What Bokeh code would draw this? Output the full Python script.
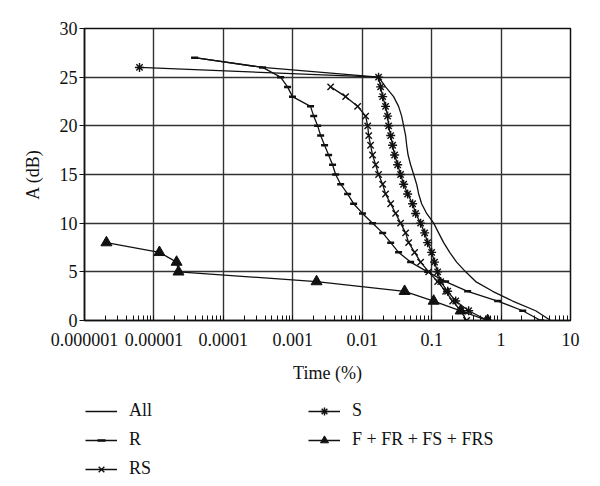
from bokeh.plotting import figure
from bokeh.layouts import column
from bokeh.models import (FixedTicker, CustomJSTickFormatter, Legend, LegendItem,
                          Range1d)
from bokeh.embed import file_html
from bokeh.resources import INLINE

# ---------------- data ----------------
A_all = [27, 26, 25, 24, 23, 22, 21, 20, 19, 18, 17, 16, 15, 14, 13, 12,
         11, 10, 9, 8, 7, 6, 5, 4, 3, 2, 1, 0]
t_all = [3.85e-5, 3.67e-4, 0.0172, 0.0217, 0.0283, 0.0334, 0.0370, 0.0395,
         0.0422, 0.0437, 0.0458, 0.0498, 0.0551, 0.0608, 0.0650, 0.0718,
         0.0847, 0.107, 0.126, 0.149, 0.182, 0.229, 0.309, 0.431, 0.757,
         1.47, 3.15, 5.19]

A_r = [27, 26, 25, 24, 23, 22, 21, 20, 19, 18, 17, 16, 15, 14, 13, 12,
       11, 10, 9, 8, 7, 6, 5, 4, 3, 2, 1, 0]
t_r = [3.85e-5, 3.67e-4, 6.67e-4, 8.4e-4, 9.9e-4, 1.80e-3, 2.0e-3, 2.28e-3,
       2.52e-3, 2.87e-3, 3.28e-3, 3.74e-3, 4.14e-3, 4.89e-3, 6.16e-3,
       7.52e-3, 1.01e-2, 1.41e-2, 1.97e-2, 2.57e-2, 3.34e-2, 4.98e-2,
       8.75e-2, 0.159, 0.330, 0.894, 2.05, 3.72]

A_rs = [24, 23, 22, 21, 20, 19, 18, 17, 16, 15, 14, 13, 12, 11, 10, 9, 8,
        7, 6, 5, 4, 3, 2, 1, 0]
t_rs = [3.51e-3, 5.77e-3, 8.59e-3, 0.0112, 0.0120, 0.0124, 0.0132, 0.0141,
        0.0156, 0.0172, 0.0197, 0.0217, 0.0257, 0.0303, 0.0357, 0.0422,
        0.0466, 0.0569, 0.0694, 0.0906, 0.122, 0.159, 0.201, 0.262, 0.319]

A_s = [26, 25, 24, 23, 22, 21, 20, 19, 18, 17, 16, 15, 14, 13, 12, 11, 10,
       9, 8, 7, 6, 5, 4, 3, 2, 1, 0]
t_s = [6.2e-6, 0.0172, 0.0184, 0.0197, 0.0217, 0.0232, 0.0240, 0.0257,
       0.0274, 0.0293, 0.0324, 0.0357, 0.0395, 0.0451, 0.0532, 0.0588,
       0.0694, 0.0793, 0.0875, 0.100, 0.110, 0.122, 0.135, 0.170, 0.222,
       0.341, 0.641]

A_f = [8, 7, 6, 5, 4, 3, 2, 1, 0]
t_f = [2.07e-6, 1.2e-5, 2.12e-5, 2.26e-5, 2.2e-3, 0.0408, 0.107, 0.262, 0.641]

x_major = [1e-6, 1e-5, 1e-4, 1e-3, 1e-2, 1e-1, 1, 10]
y_major = [0, 5, 10, 15, 20, 25, 30]
x_minor = [m * d for d in x_major[:-1] for m in range(2, 10)]

labels = ["All", "R", "RS", "S", "F + FR + FS + FRS"]

FONT = "Liberation Serif"
BLACK = "#111111"

# ---------------- main chart ----------------
fig = figure(width=600, height=392, x_axis_type="log",
             x_range=Range1d(1e-6, 10), y_range=Range1d(0, 30),
             output_backend="svg", toolbar_location=None,
             min_border_left=84, min_border_right=30, min_border_top=28,
             min_border_bottom=72)
fig.background_fill_color = "white"
fig.border_fill_color = "white"
fig.outline_line_color = BLACK
fig.outline_line_width = 1.5

xt = FixedTicker(ticks=x_major, minor_ticks=x_minor)
yt = FixedTicker(ticks=y_major)
fig.xaxis.ticker = xt
fig.yaxis.ticker = yt
fig.xgrid.ticker = xt
fig.ygrid.ticker = yt
for g in (fig.xgrid, fig.ygrid):
    g.grid_line_color = "#333333"
    g.grid_line_width = 1.4
fig.xaxis.formatter = CustomJSTickFormatter(code="""
    const e = Math.round(Math.log10(tick));
    if (e >= 0) { return String(Math.round(Math.pow(10, e))); }
    return "0." + "0".repeat(-e - 1) + "1";
""")

for ax in (fig.xaxis[0], fig.yaxis[0]):
    ax.axis_line_color = BLACK
    ax.axis_line_width = 1.5
    ax.major_tick_line_color = BLACK
    ax.minor_tick_line_color = BLACK
    ax.major_label_text_font = FONT
    ax.major_label_text_font_size = "18px"
    ax.major_label_text_color = BLACK
    ax.axis_label_text_font = FONT
    ax.axis_label_text_font_size = "18px"
    ax.axis_label_text_font_style = "normal"
    ax.axis_label_text_color = BLACK

fig.xaxis.major_tick_in = 5
fig.xaxis.major_tick_out = 0
fig.xaxis.minor_tick_in = 5
fig.xaxis.minor_tick_out = 0
fig.xaxis.major_label_standoff = 12
fig.xaxis.axis_label = "Time (%)"
fig.xaxis.axis_label_standoff = 14

fig.yaxis.major_tick_in = 0
fig.yaxis.major_tick_out = 5
fig.yaxis.minor_tick_line_color = None
fig.yaxis.major_label_standoff = 2
fig.yaxis.axis_label = "A (dB)"
fig.yaxis.axis_label_standoff = 14

lw = 1.3
STY = {
    "R": dict(marker="dash", size=7, line_color=BLACK, line_width=2.5),
    "RS": dict(marker="x", size=9, line_color=BLACK, line_width=1.4),
    "S": dict(marker="asterisk", size=9, line_color=BLACK, line_width=1.4),
    "F": dict(marker="triangle", size=11, line_color=BLACK, fill_color=BLACK),
}


def draw(f):
    """Draw all series on figure f; returns renderers for the legend."""
    r = {}
    r["All"] = [f.line(t_all, A_all, line_color=BLACK, line_width=lw)]
    r["R"] = [f.line(t_r, A_r, line_color=BLACK, line_width=lw),
              f.scatter(t_r, A_r, **STY["R"])]
    r["RS"] = [f.line(t_rs, A_rs, line_color=BLACK, line_width=lw),
               f.scatter(t_rs, A_rs, **STY["RS"])]
    r["S"] = [f.line(t_s, A_s, line_color=BLACK, line_width=lw),
              f.scatter(t_s, A_s, **STY["S"])]
    r["F"] = [f.line(t_f, A_f, line_color=BLACK, line_width=lw),
              f.scatter(t_f, A_f, **STY["F"])]
    return r


draw(fig)

# ---------------- legend strip (series drawn off-range, only legend shows) ----
lf = figure(width=600, height=94, output_backend="svg",
            toolbar_location=None, x_axis_location=None,
            y_axis_location=None, min_border=0,
            x_range=Range1d(100, 101), y_range=Range1d(-100, -99))
lf.outline_line_color = None
lf.xgrid.visible = False
lf.ygrid.visible = False
lf.background_fill_color = "white"
lf.border_fill_color = "white"

rr = draw(lf)
keys = ["All", "R", "RS", "S", "F"]
leg = Legend(items=[LegendItem(label=lab, renderers=rr[k])
                    for lab, k in zip(labels, keys)],
             orientation="vertical", nrows=3)
leg.label_text_font = FONT
leg.label_text_font_size = "18px"
leg.label_text_color = BLACK
leg.glyph_width = 32
leg.glyph_height = 20
leg.label_height = 20
leg.label_width = 171
leg.spacing = 8
leg.padding = 0
leg.margin = 0
leg.label_standoff = 12
leg.border_line_alpha = 0
leg.background_fill_alpha = 0
leg.location = (1, 7)
lf.add_layout(leg, "center")

p = column(fig, lf, spacing=0)

open("out.html", "w").write(file_html(p, INLINE))
